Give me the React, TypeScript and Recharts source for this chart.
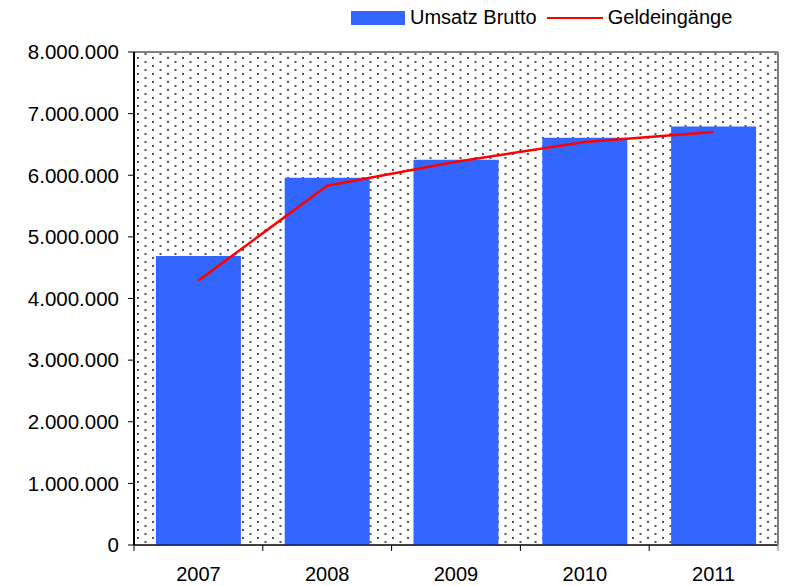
import { ComposedChart, Bar, Line, XAxis, YAxis, CartesianGrid, ReferenceLine } from "recharts";

const years = ["2007", "2008", "2009", "2010", "2011"];
const umsatzBrutto = [4690000, 5960000, 6250000, 6610000, 6790000];
const geldeingaenge = [4290000, 5830000, 6220000, 6540000, 6700000];
const yTicks = [0, 1000000, 2000000, 3000000, 4000000, 5000000, 6000000, 7000000, 8000000];

const data = years.map((y, i) => ({ year: y, umsatz: umsatzBrutto[i], geld: geldeingaenge[i] }));

const FONT = "'Liberation Sans', Arial, sans-serif";
const BLUE = "#3366FF";
const RED = "#FF0000";

const fmt = (v: number) => String(v).replace(/\B(?=(\d{3})+(?!\d))/g, ".");

// label at category centre, tick marks at category boundaries
const XTick = (props: any) => {
  const { x, y, payload, index } = props;
  const half = 644 / years.length / 2;
  return (
    <g>
      <line x1={x - half} x2={x - half} y1={y - 8} y2={y - 2} stroke="#000" />
      {index === years.length - 1 && <line x1={x + half} x2={x + half} y1={y - 8} y2={y - 2} stroke="#808080" />}
      <text x={x} y={y + 28} textAnchor="middle" fontSize={20} fontFamily={FONT} fill="#000">
        {payload.value}
      </text>
    </g>
  );
};

export default function App() {
  return (
    <div style={{ position: "absolute", left: 0, top: 0, width: 785, height: 586, background: "#fff" }}>
      <div style={{ position: "absolute", left: 351, top: 6, display: "flex", alignItems: "center", fontFamily: FONT, fontSize: 20, color: "#000", whiteSpace: "nowrap", zIndex: 2 }}>
        <span style={{ display: "inline-block", width: 54, height: 14, background: BLUE, marginRight: 5 }} />
        <span>Umsatz Brutto</span>
        <span style={{ display: "inline-block", width: 56, height: 2, background: RED, marginLeft: 10, marginRight: 5 }} />
        <span>Geldeingänge</span>
      </div>
      <ComposedChart width={785} height={586} data={data} margin={{ top: 52, right: 6, left: 0, bottom: 0 }} barCategoryGap="17%">
        <defs>
          <pattern id="dots" x="0" y="0" width="15" height="8" patternUnits="userSpaceOnUse">
            <rect width="15" height="8" fill="#fff" />
            <rect x="2" y="1" width="2" height="2" fill="#555" />
            <rect x="9.5" y="5" width="2" height="2" fill="#555" />
          </pattern>
        </defs>
        <CartesianGrid vertical={false} stroke="#000" strokeWidth={1} fill="url(#dots)" fillOpacity={1} />
        <XAxis dataKey="year" height={41} axisLine={{ stroke: "#000" }} tickLine={false} tick={<XTick />} interval={0} />
        <YAxis
          yAxisId="left"
          width={134}
          domain={[0, 8000000]}
          ticks={yTicks}
          tickFormatter={fmt}
          axisLine={{ stroke: "#000", strokeWidth: 2 }}
          tickLine={{ stroke: "#000" }}
          tickSize={6}
          tickMargin={9}
          tick={{ fontSize: 20.5, fontFamily: FONT, fill: "#000" }}
        />
        <YAxis yAxisId="right" orientation="right" width={1} domain={[0, 8000000]} tick={false} tickLine={false} axisLine={{ stroke: "#808080", strokeWidth: 2 }} />
        <ReferenceLine yAxisId="left" y={8000000} stroke="#808080" strokeWidth={2} />
        <Bar yAxisId="left" dataKey="umsatz" name="Umsatz Brutto" fill={BLUE} isAnimationActive={false} />
        <Line yAxisId="left" type="linear" dataKey="geld" name="Geldeingänge" stroke={RED} strokeWidth={2.5} dot={false} isAnimationActive={false} />
      </ComposedChart>
    </div>
  );
}
